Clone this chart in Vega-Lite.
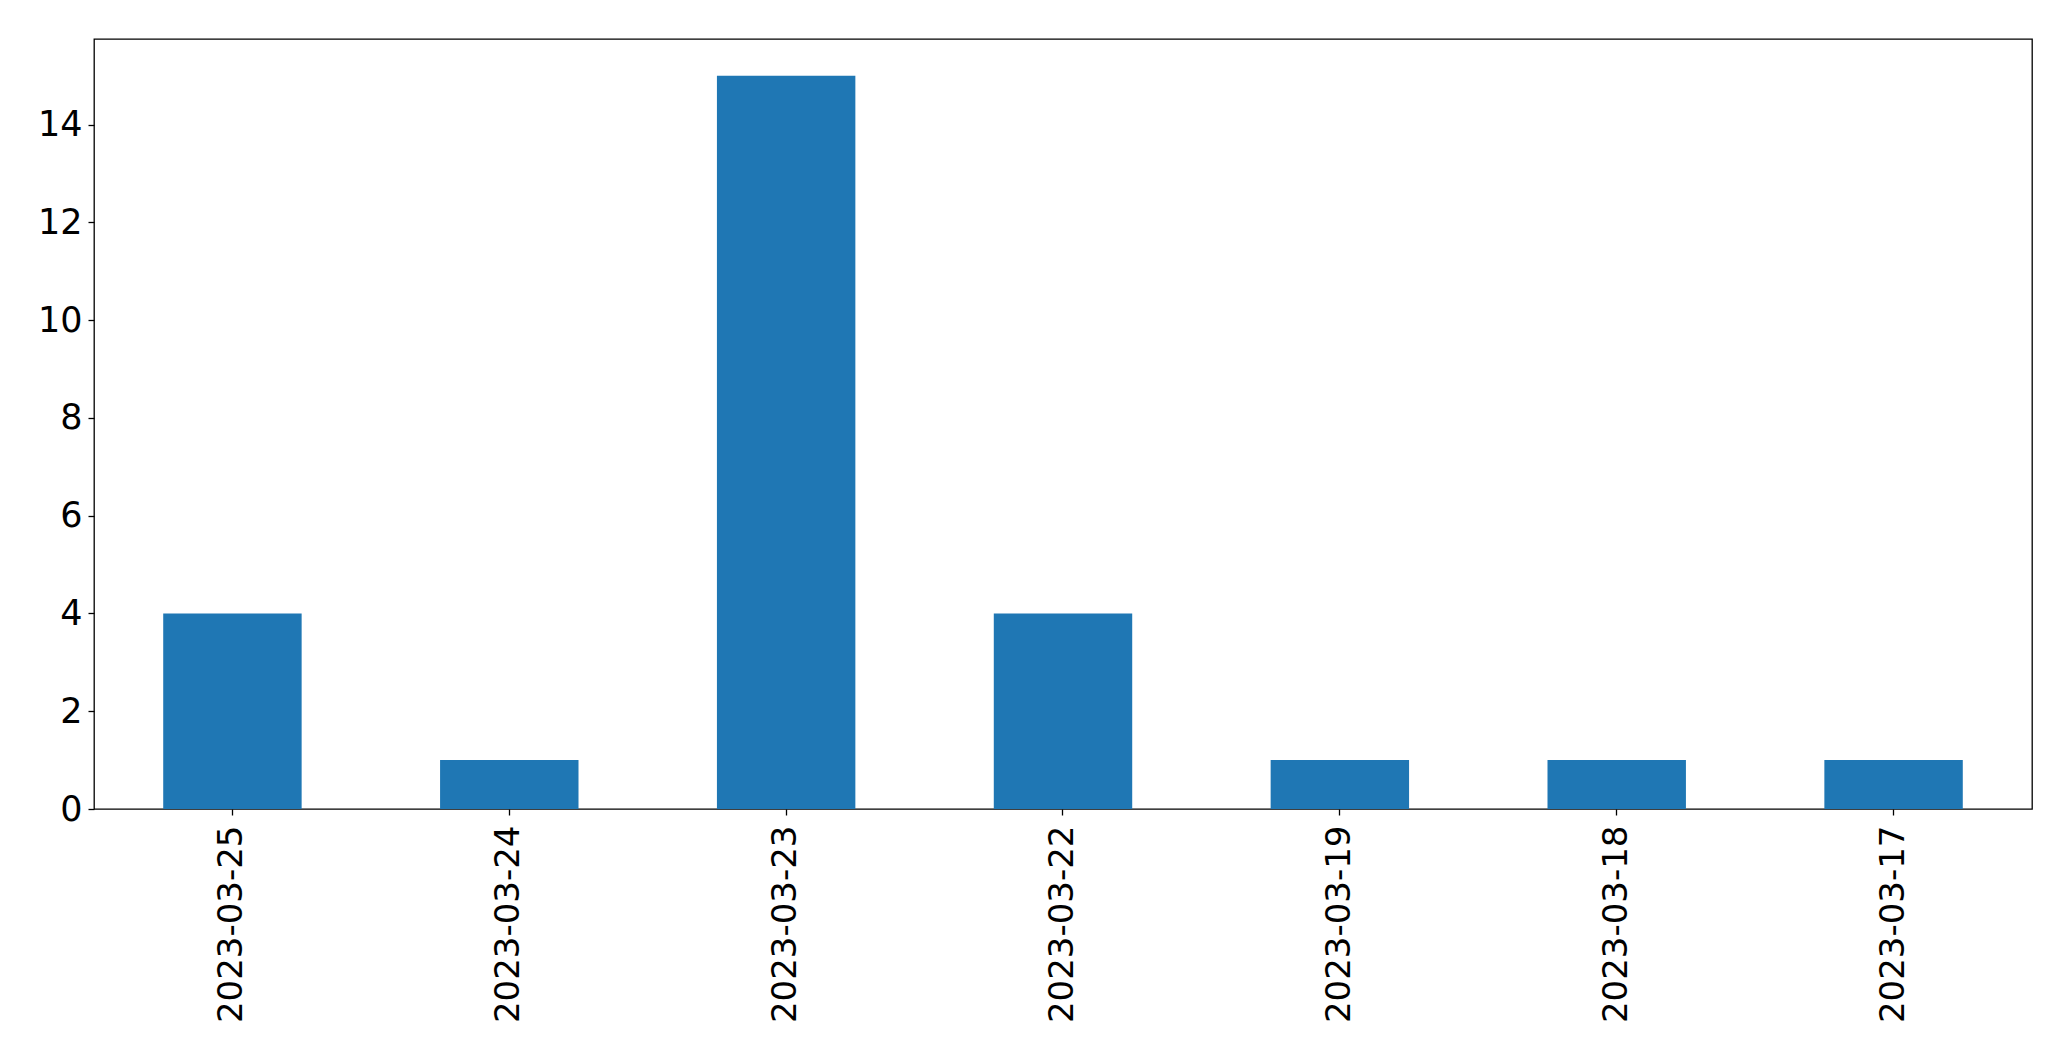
{
  "$schema": "https://vega.github.io/schema/vega-lite/v6.json",
  "autosize": {"type": "none"},
  "padding": {"left": 94, "top": 39, "right": 39, "bottom": 252},
  "width": 1938,
  "height": 770,
  "background": "white",
  "config": {
    "view": {"stroke": "black", "strokeWidth": 1.3},
    "font": "DejaVu Sans"
  },
  "data": {
    "values": [
      {"date": "2023-03-25", "count": 4},
      {"date": "2023-03-24", "count": 1},
      {"date": "2023-03-23", "count": 15},
      {"date": "2023-03-22", "count": 4},
      {"date": "2023-03-19", "count": 1},
      {"date": "2023-03-18", "count": 1},
      {"date": "2023-03-17", "count": 1}
    ]
  },
  "mark": {"type": "bar", "color": "#1f77b4"},
  "encoding": {
    "x": {
      "field": "date",
      "type": "nominal",
      "sort": null,
      "scale": {"paddingInner": 0.5, "paddingOuter": 0.25},
      "axis": {
        "title": null,
        "labelAngle": -90,
        "labelFont": "DejaVu Sans",
        "labelFontSize": 34,
        "labelColor": "black",
        "labelLimit": 0,
        "labelPadding": 10,
        "tickSize": 6,
        "tickColor": "black",
        "tickWidth": 1.3,
        "domain": false,
        "grid": false
      }
    },
    "y": {
      "field": "count",
      "type": "quantitative",
      "scale": {"domain": [0, 15.75], "nice": false},
      "axis": {
        "title": null,
        "values": [0, 2, 4, 6, 8, 10, 12, 14],
        "labelFont": "DejaVu Sans",
        "labelFontSize": 35,
        "labelColor": "black",
        "labelPadding": 6,
        "tickSize": 6,
        "tickColor": "black",
        "tickWidth": 1.3,
        "domain": false,
        "grid": false
      }
    }
  }
}
